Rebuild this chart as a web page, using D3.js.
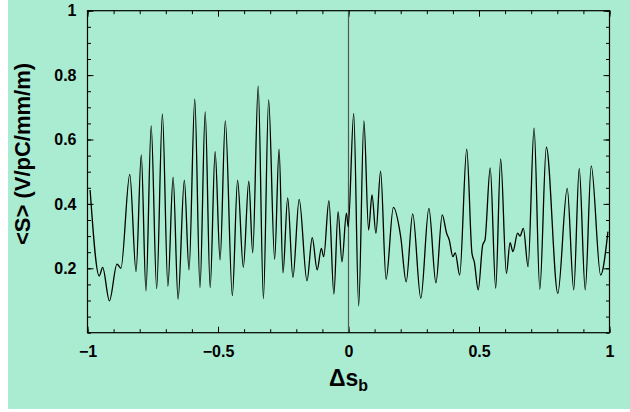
<!DOCTYPE html>
<html><head><meta charset="utf-8">
<script src="https://cdn.jsdelivr.net/npm/d3@7"></script>
<style>
body{margin:0;background:#fff}
svg{display:block}
text{font-family:"Liberation Sans",Arial,Helvetica,sans-serif;font-weight:bold;fill:#000}
</style>
</head><body>
<svg id="c" width="630" height="412"></svg>
<script>
// Δs_b positions
const dsValues = [-0.990,-0.955,-0.942,-0.916,-0.887,-0.872,-0.838,-0.814,-0.794,-0.776,-0.756,-0.735,-0.713,-0.692,-0.672,-0.653,-0.629,-0.611,-0.589,-0.569,-0.549,-0.530,-0.511,-0.492,-0.472,-0.445,-0.425,-0.403,-0.382,-0.367,-0.346,-0.326,-0.306,-0.283,-0.266,-0.251,-0.233,-0.213,-0.189,-0.159,-0.139,-0.120,-0.104,-0.095,-0.075,-0.056,-0.040,-0.025,-0.008,-0.001,0.020,0.039,0.059,0.077,0.090,0.105,0.123,0.144,0.172,0.200,0.221,0.246,0.277,0.308,0.335,0.359,0.376,0.386,0.400,0.409,0.426,0.453,0.473,0.482,0.497,0.514,0.523,0.543,0.564,0.583,0.605,0.619,0.630,0.648,0.657,0.670,0.688,0.711,0.733,0.758,0.802,0.838,0.863,0.884,0.907,0.930,0.966,0.994];
// <S> values
const sValues = [0.443,0.176,0.203,0.099,0.213,0.200,0.492,0.190,0.552,0.130,0.642,0.137,0.679,0.145,0.483,0.104,0.474,0.195,0.725,0.140,0.686,0.140,0.562,0.226,0.658,0.115,0.474,0.203,0.471,0.248,0.766,0.106,0.723,0.228,0.570,0.186,0.419,0.172,0.414,0.161,0.295,0.195,0.262,0.236,0.410,0.120,0.376,0.220,0.371,0.329,0.681,0.083,0.658,0.319,0.428,0.309,0.502,0.166,0.389,0.298,0.158,0.369,0.107,0.386,0.155,0.366,0.309,0.288,0.236,0.248,0.179,0.570,0.247,0.220,0.133,0.272,0.288,0.512,0.138,0.540,0.184,0.280,0.252,0.309,0.300,0.324,0.205,0.635,0.135,0.576,0.122,0.448,0.133,0.510,0.133,0.518,0.179,0.314];
const xTicks = [-1,-0.5,0,0.5,1];
const xTickLabels = ["\u22121","\u22120.5","0","0.5","1"];
const yTicks = [0.2,0.4,0.6,0.8,1];
const yTickLabels = ["0.2","0.4","0.6","0.8","1"];
const xMinor = d3.range(-10,11).map(i=>i/10);
const yMinor = d3.range(0,21).map(i=>i/20);

const svg = d3.select("#c");
const L=87.5,R=609.5,T=10.7,B=332.7;
svg.append("rect").attr("x",8).attr("y",0).attr("width",622).attr("height",409).attr("fill","#aaecd2");

const x = d3.scaleLinear().domain([-1,1]).range([L,R]);
const y = d3.scaleLinear().domain([0,1]).range([B,T]);

function axis(gen, tx, ty){
  return svg.append("g").attr("transform",`translate(${tx},${ty})`).call(gen)
    .call(g=>g.select(".domain").remove())
    .call(g=>g.selectAll("line").attr("stroke","#000").attr("stroke-width",1));
}
// minor ticks all sides
axis(d3.axisBottom(x).tickValues(xMinor).tickSize(-3.5).tickFormat(""),0,B);
axis(d3.axisTop(x).tickValues(xMinor).tickSize(-3.5).tickFormat(""),0,T);
axis(d3.axisLeft(y).tickValues(yMinor).tickSize(-3.5).tickFormat(""),L,0);
axis(d3.axisRight(y).tickValues(yMinor).tickSize(-3.5).tickFormat(""),R,0);
// major ticks + labels
axis(d3.axisBottom(x).tickValues(xTicks).tickSize(-6).tickPadding(13).tickFormat((d,i)=>xTickLabels[i]),0,B);
axis(d3.axisTop(x).tickValues(xTicks).tickSize(-6).tickFormat(""),0,T);
axis(d3.axisLeft(y).tickValues(yTicks).tickSize(-6).tickPadding(11).tickFormat((d,i)=>yTickLabels[i]),L,0);
axis(d3.axisRight(y).tickValues(yTicks).tickSize(-6).tickFormat(""),R,0);
svg.selectAll(".tick text").attr("font-size",16).attr("font-family",null).attr("font-weight","bold");

// vertical line at 0
svg.append("line").attr("x1",x(0)).attr("x2",x(0)).attr("y1",T).attr("y2",B)
  .attr("stroke","#555").attr("stroke-width",1.2);

// frame
svg.append("rect").attr("x",L).attr("y",T).attr("width",R-L).attr("height",B-T)
  .attr("fill","none").attr("stroke","#000").attr("stroke-width",1.2);

// data line
const pts = dsValues.map((d,i)=>[d,sValues[i]]);
svg.append("path").datum(pts)
  .attr("d",d3.line().x(d=>x(d[0])).y(d=>y(d[1])).curve(d3.curveMonotoneX))
  .attr("fill","none").attr("stroke","#000").attr("stroke-width",1.3);

// axis titles
const xt = svg.append("text").attr("x",x(0)).attr("y",386).attr("text-anchor","middle").attr("font-size",23);
xt.append("tspan").text("\u0394s");
xt.append("tspan").attr("font-size",16).attr("dy",5).text("b");

svg.append("text").attr("transform",`translate(30,154) rotate(-90)`)
  .attr("text-anchor","middle").attr("font-size",22).text("<S> (V/pC/mm/m)");
</script>
</body></html>
